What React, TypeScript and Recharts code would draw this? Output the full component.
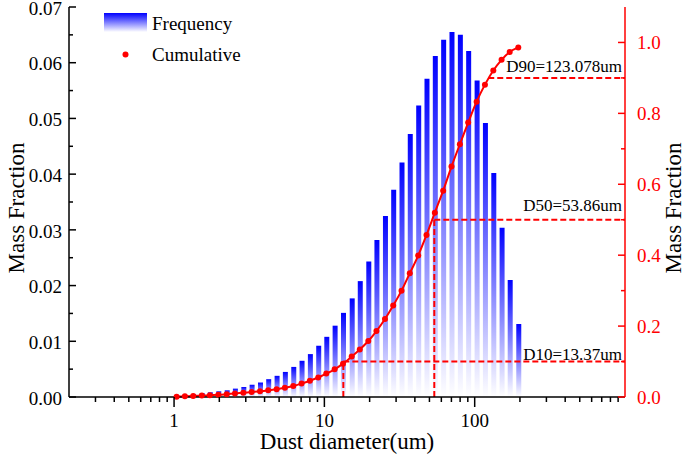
import React from "react";
import {
  Bar,
  ComposedChart,
  Legend,
  Line,
  ReferenceLine,
  XAxis,
  YAxis,
} from "recharts";

const FONT = '"Liberation Serif", "Times New Roman", serif';
const BLUE = "#0000ff";
const RED = "#ff0000";

// particle size classes (um)
const sizes = [
  1.04, 1.18, 1.34, 1.53, 1.73, 1.97, 2.24, 2.54, 2.89, 3.28, 3.73, 4.23, 4.81, 5.46,
  6.21, 7.05, 8.01, 9.1, 10.3, 11.7, 13.3, 15.2, 17.2, 19.6, 22.2, 25.3, 28.7, 32.6,
  37.0, 42.1, 47.8, 54.3, 61.7, 70.1, 79.7, 90.5, 103, 117, 133, 151, 171, 195,
];

const frequency = [
  0.00024, 0.00036, 0.00048, 0.00066, 0.00084, 0.00102, 0.0012, 0.0015, 0.0018, 0.0022,
  0.0026, 0.0032, 0.0038, 0.0045, 0.0054, 0.0065, 0.0077, 0.0092, 0.0108, 0.0128,
  0.0151, 0.0177, 0.0208, 0.0243, 0.0282, 0.0325, 0.0372, 0.0421, 0.0472, 0.0523,
  0.0571, 0.0612, 0.0641, 0.0655, 0.065, 0.0621, 0.0568, 0.0492, 0.0402, 0.0304,
  0.021, 0.0131,
];

const cumulative = [
  0.001, 0.002, 0.003, 0.004, 0.005, 0.006, 0.008, 0.01, 0.012, 0.014, 0.016, 0.019,
  0.022, 0.026, 0.031, 0.038, 0.046, 0.055, 0.066, 0.078, 0.094, 0.114, 0.134, 0.158,
  0.186, 0.22, 0.258, 0.3, 0.349, 0.399, 0.457, 0.52, 0.582, 0.65, 0.713, 0.774, 0.833,
  0.881, 0.921, 0.951, 0.973, 0.986,
];

const xTicks = [
  0.3, 0.4, 0.5, 0.6, 0.7, 0.8, 0.9, 1, 2, 3, 4, 5, 6, 7, 8, 9, 10, 20, 30, 40, 50, 60,
  70, 80, 90, 100, 200, 300, 400, 500, 600, 700, 800, 900,
];
const xMajor = [1, 10, 100];
const leftTicks = [
  0, 0.005, 0.01, 0.015, 0.02, 0.025, 0.03, 0.035, 0.04, 0.045, 0.05, 0.055, 0.06,
  0.065, 0.07,
];
const rightTicks = [0, 0.1, 0.2, 0.3, 0.4, 0.5, 0.6, 0.7, 0.8, 0.9, 1.0];

// D10 / D50 / D90 markers
const markers = [
  { name: "D10", size: 13.37, level: 0.1, label: "D10=13.37um", vertical: true, gap: 2 },
  { name: "D50", size: 53.86, level: 0.5, label: "D50=53.86um", vertical: true, gap: 9 },
  { name: "D90", size: 123.078, level: 0.9, label: "D90=123.078um", vertical: false, gap: 6 },
];

const data = sizes.map((size, i) => ({
  size,
  freq: frequency[i],
  cum: cumulative[i],
}));

function XTick({ x, y, payload }: any) {
  const v = payload.value as number;
  const major = xMajor.includes(v);
  return (
    <g>
      <line x1={x} x2={x} y1={y} y2={y + (major ? 10 : 5)} stroke="#000" strokeWidth={1.5} />
      {major && (
        <text x={x} y={y + 30} textAnchor="middle" fontSize={19} fontFamily={FONT} fill="#000">
          {v}
        </text>
      )}
    </g>
  );
}

function LeftTick({ x, y, payload }: any) {
  const v = payload.value as number;
  const major = Math.abs(v * 100 - Math.round(v * 100)) < 1e-6;
  return (
    <g>
      <line x1={x} x2={x + (major ? 7 : 4)} y1={y} y2={y} stroke="#000" strokeWidth={1.5} />
      {major && (
        <text x={x - 7} y={y + 1} dy="0.35em" textAnchor="end" fontSize={19} fontFamily={FONT} fill="#000">
          {v.toFixed(2)}
        </text>
      )}
    </g>
  );
}

function RightTick({ x, y, payload }: any) {
  const v = payload.value as number;
  const major = Math.round(v * 10) % 2 === 0;
  return (
    <g>
      <line x1={x} x2={x - (major ? 7 : 4)} y1={y} y2={y} stroke={RED} strokeWidth={1.5} />
      {major && (
        <text x={x + 12} y={y} dy="0.35em" textAnchor="start" fontSize={19} fontFamily={FONT} fill={RED}>
          {v.toFixed(1)}
        </text>
      )}
    </g>
  );
}

function DLabel({ viewBox, text, gap }: any) {
  if (!viewBox) return null;
  return (
    <text
      x={viewBox.x + viewBox.width - 3}
      y={viewBox.y - gap}
      textAnchor="end"
      fontSize={17}
      fontFamily={FONT}
      fill="#000"
    >
      {text}
    </text>
  );
}

function VTitle({ viewBox, side }: any) {
  if (!viewBox) return null;
  const cx = side === "left" ? viewBox.x + 24 : viewBox.x + viewBox.width - 4;
  const cy = viewBox.y + viewBox.height / 2 + 6;
  return (
    <text
      x={cx}
      y={cy}
      transform={`rotate(-90 ${cx} ${cy})`}
      textAnchor="middle"
      fontSize={23}
      fontFamily={FONT}
      fill="#000"
    >
      Mass Fraction
    </text>
  );
}

function XTitle({ viewBox }: any) {
  if (!viewBox) return null;
  return (
    <text
      x={viewBox.x + viewBox.width / 2}
      y={viewBox.y + 52}
      textAnchor="middle"
      fontSize={23}
      fontFamily={FONT}
      fill="#000"
    >
      Dust diameter(um)
    </text>
  );
}

function LegendBox() {
  return (
    <svg width={260} height={70} style={{ display: "block" }}>
      <defs>
        <linearGradient id="legendGrad" x1="0" y1="0" x2="0" y2="1">
          <stop offset="0" stopColor={BLUE} />
          <stop offset="1" stopColor="#ffffff" />
        </linearGradient>
      </defs>
      <rect x={104} y={13} width={43} height={19} fill="url(#legendGrad)" />
      <text x={152} y={30} fontSize={19} fontFamily={FONT} fill="#000">
        Frequency
      </text>
      <circle cx={125.5} cy={54.5} r={3} fill={RED} />
      <text x={152} y={61} fontSize={19} fontFamily={FONT} fill="#000">
        Cumulative
      </text>
    </svg>
  );
}

export default function App() {
  return (
    <div style={{ position: "absolute", left: 0, top: 0, width: 685, height: 456, background: "#fff" }}>
      <ComposedChart
        width={685}
        height={456}
        data={data}
        margin={{ top: 7, right: 0, left: 0, bottom: 0 }}
      >
        <defs>
          <linearGradient id="barGrad" x1="0" y1="0" x2="0" y2="1">
            <stop offset="0" stopColor={BLUE} />
            <stop offset="1" stopColor="#ffffff" />
          </linearGradient>
        </defs>
        <XAxis
          dataKey="size"
          type="number"
          scale="log"
          domain={[0.2, 1000]}
          allowDataOverflow
          ticks={xTicks}
          interval={0}
          height={59}
          tickSize={0}
          tickMargin={0}
          tickLine={false}
          tick={<XTick />}
          axisLine={{ stroke: "#000", strokeWidth: 1.5 }}
          label={<XTitle />}
        />
        <XAxis
          xAxisId="top"
          orientation="top"
          type="number"
          domain={[0, 1]}
          height={0}
          tick={false}
          tickLine={false}
          axisLine={{ stroke: "#000", strokeWidth: 1.5 }}
        />
        <YAxis
          yAxisId="left"
          width={69}
          domain={[0, 0.07]}
          ticks={leftTicks}
          interval={0}
          tickSize={0}
          tickMargin={0}
          tickLine={false}
          tick={<LeftTick />}
          axisLine={{ stroke: "#000", strokeWidth: 1.5 }}
          label={<VTitle side="left" />}
        />
        <YAxis
          yAxisId="right"
          orientation="right"
          width={60}
          domain={[0, 1.1]}
          ticks={rightTicks}
          interval={0}
          tickSize={0}
          tickMargin={0}
          tickLine={false}
          tick={<RightTick />}
          axisLine={{ stroke: RED, strokeWidth: 1.5 }}
          label={<VTitle side="right" />}
        />
        <Legend
          layout="vertical"
          verticalAlign="middle"
          align="center"
          wrapperStyle={{ left: 0, top: 0, width: 260, height: 70 }}
          content={<LegendBox />}
        />
        <Bar
          yAxisId="left"
          dataKey="freq"
          name="Frequency"
          barSize={5}
          fill="url(#barGrad)"
          isAnimationActive={false}
        />
        {markers.map((m) => (
          <ReferenceLine
            key={m.name + "h"}
            yAxisId="right"
            segment={[
              { x: m.size, y: m.level },
              { x: 1000, y: m.level },
            ]}
            stroke={RED}
            strokeWidth={2}
            strokeDasharray="6 3"
            label={<DLabel text={m.label} gap={m.gap} />}
          />
        ))}
        {markers
          .filter((m) => m.vertical)
          .map((m) => (
            <ReferenceLine
              key={m.name + "v"}
              yAxisId="right"
              segment={[
                { x: m.size, y: 0 },
                { x: m.size, y: m.level },
              ]}
              stroke={RED}
              strokeWidth={2}
              strokeDasharray="6 3"
            />
          ))}
        <Line
          yAxisId="right"
          dataKey="cum"
          name="Cumulative"
          type="monotone"
          stroke={RED}
          strokeWidth={2}
          dot={{ r: 3, fill: RED, stroke: RED, strokeWidth: 0 }}
          isAnimationActive={false}
        />
      </ComposedChart>
    </div>
  );
}
